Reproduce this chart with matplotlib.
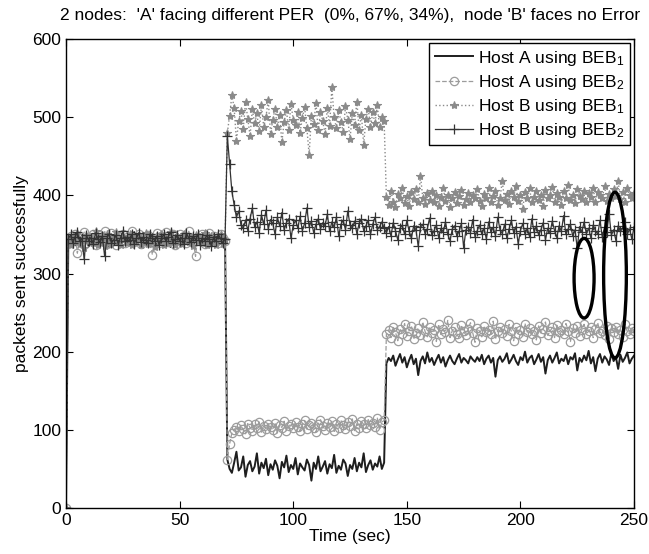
import matplotlib
matplotlib.use('Agg')
import matplotlib.pyplot as plt
from matplotlib.patches import Ellipse
import numpy as np

plt.rcParams['font.family'] = ['Liberation Sans', 'DejaVu Sans']
plt.rcParams['mathtext.default'] = 'regular'

# time axis: one sample per second
time = np.arange(0, 251)

# ---- Host A using BEB1 ----
a1_p1 = [338, 345, 341, 336, 350, 344, 339, 347, 342, 335,
         348, 340, 337, 352, 343, 338, 346, 341, 334, 349,
         344, 339, 351, 336, 342, 347, 338, 345, 340, 353,
         337, 343, 348, 335, 341, 346, 339, 350, 344, 336,
         342, 349, 338, 345, 340, 334, 347, 343, 351, 337,
         341, 346, 339, 344, 350, 336, 342, 348, 340, 345,
         338, 343, 349, 335, 341, 347, 339, 344, 337, 342]
a1_p2 = [62, 50, 45, 58, 72, 48, 52, 66, 40, 55,
         60, 47, 53, 70, 44, 58, 51, 63, 42, 56,
         49, 61, 54, 38, 59, 52, 67, 46, 55, 50,
         64, 43, 57, 52, 48, 62, 55, 35, 58, 50,
         66, 47, 53, 60, 44, 56, 51, 68, 45, 54,
         49, 62, 57, 41, 55, 50, 64, 47, 58, 52,
         70, 46, 55, 61, 49, 57, 53, 66, 50, 58]
a1_p3 = [185, 192, 188, 195, 182, 190, 197, 186, 193, 180,
         189, 196, 184, 191, 170, 188, 194, 185, 199, 187,
         192, 183, 190, 196, 186, 193, 181, 189, 195, 188,
         184, 191, 197, 186, 192, 189, 185, 194, 190, 187,
         193, 188, 196, 184, 191, 195, 186, 192, 168, 189,
         194, 187, 191, 198, 185, 190, 196, 188, 183, 193,
         189, 200, 186, 192, 195, 184, 190, 197, 187, 193,
         172, 189, 195, 186, 192, 199, 185, 191, 188, 196,
         184, 193, 190, 198, 176, 192, 187, 195, 189, 201,
         185, 193, 175, 191, 197, 186, 194, 190, 183, 198,
         188, 193, 178, 196, 187, 192, 199, 185, 191, 195]

# ---- Host A using BEB2 ----
a2_p1 = [340, 348, 344, 350, 326, 346, 342, 353, 339, 347,
         343, 351, 337, 345, 349, 341, 355, 338, 346, 352,
         344, 336, 348, 342, 350, 339, 347, 343, 354, 340,
         345, 351, 338, 347, 342, 349, 341, 324, 346, 352,
         339, 348, 344, 353, 340, 346, 350, 337, 345, 351,
         343, 348, 339, 354, 346, 341, 322, 347, 343, 350,
         338, 345, 352, 340, 348, 344, 339, 351, 346, 342]
a2_p2 = [62, 82, 96, 100, 104, 98, 106, 101, 95, 108,
         103, 99, 107, 102, 110, 97, 105, 101, 108, 104,
         100, 109, 96, 106, 103, 111, 99, 105, 108, 102,
         110, 104, 98, 107, 112, 101, 106, 109, 103, 97,
         108, 113, 105, 100, 109, 104, 111, 98, 107, 103,
         112, 106, 101, 110, 105, 114, 99, 108, 103, 111,
         107, 102, 113, 106, 109, 104, 115, 100, 110, 112]
a2_p3 = [222, 228, 218, 231, 225, 214, 229, 223, 236, 220,
         227, 233, 216, 224, 230, 221, 238, 226, 219, 232,
         224, 228, 213, 235, 222, 229, 225, 240, 218, 227,
         231, 223, 217, 234, 226, 221, 229, 237, 224, 212,
         230, 226, 219, 233, 225, 228, 222, 239, 216, 227,
         232, 224, 229, 220, 235, 226, 214, 231, 223, 228,
         219, 236, 225, 230, 222, 227, 215, 233, 224, 229,
         238, 221, 226, 231, 218, 234, 225, 228, 222, 236,
         227, 213, 230, 224, 233, 220, 228, 235, 223, 226,
         231, 218, 229, 237, 224, 227, 221, 233, 216, 230,
         225, 232, 222, 228, 219, 235, 226, 223, 230, 227]

# ---- Host B using BEB1 ----
b1_p1 = [342, 336, 347, 340, 352, 338, 344, 333, 349, 341,
         346, 339, 355, 337, 343, 348, 335, 350, 342, 338,
         346, 353, 340, 336, 348, 344, 339, 351, 337, 345,
         341, 349, 336, 343, 352, 338, 346, 340, 334, 347,
         342, 350, 337, 345, 339, 353, 341, 336, 348, 344,
         338, 351, 343, 340, 347, 335, 349, 342, 346, 339,
         352, 337, 344, 348, 341, 336, 345, 350, 338, 343]
b1_p2 = [480, 502, 528, 512, 470, 495, 508, 485, 520, 498,
         476, 510, 492, 505, 482, 515, 488, 500, 522, 479,
         496, 511, 487, 503, 468, 494, 509, 484, 517, 497,
         490, 506, 480, 499, 513, 486, 452, 502, 491, 518,
         483, 507, 495, 478, 512, 489, 538, 500, 486, 509,
         494, 481, 514, 497, 472, 505, 490, 520, 484, 503,
         465, 498, 511, 488, 506, 492, 515, 487, 500, 495]
b1_p3 = [398, 388, 405, 392, 385, 402, 396, 410, 390, 399,
         386, 404, 395, 408, 391, 425, 397, 389, 403, 394,
         406, 391, 400, 387, 398, 409, 393, 401, 385, 396,
         404, 390, 399, 407, 388, 395, 403, 392, 400, 397,
         408, 393, 386, 402, 396, 410, 391, 399, 405, 388,
         397, 418, 394, 402, 389, 406, 398, 412, 393, 400,
         383, 404, 396, 409, 391, 398, 405, 394, 401, 387,
         407, 396, 400, 411, 392, 403, 398, 388, 405, 397,
         413, 394, 401, 390, 408, 399, 395, 406, 392, 403,
         398, 410, 391, 404, 400, 396, 412, 393, 402, 397,
         408, 399, 418, 395, 404, 392, 409, 400, 396, 403]

# ---- Host B using BEB2 ----
b2_p1 = [344, 350, 339, 347, 353, 341, 345, 318, 349, 342,
         346, 338, 352, 344, 340, 348, 322, 345, 351, 339,
         343, 349, 337, 346, 354, 341, 347, 343, 350, 338,
         345, 352, 340, 347, 343, 339, 351, 346, 342, 348,
         336, 345, 350, 341, 347, 353, 339, 344, 349, 342,
         346, 338, 352, 345, 340, 348, 343, 350, 337, 346,
         342, 349, 344, 335, 347, 341, 350, 345, 339, 344]
b2_p2 = [476, 440, 405, 388, 372, 380, 362, 358, 368, 355,
         370, 384, 360, 366, 352, 375, 363, 381, 357, 369,
         364, 350, 372, 361, 378, 356, 365, 370, 345, 362,
         368, 358, 373, 355, 364, 384, 360, 367, 352, 363,
         370, 357, 365, 361, 376, 354, 366, 359, 372, 348,
         363, 368, 356, 380, 362, 358, 367, 351, 364, 370,
         355, 361, 368, 350, 363, 372, 356, 360, 366, 358]
b2_p3 = [352, 360, 348, 365, 355, 343, 358, 362, 350, 368,
         354, 345, 361, 356, 335, 359, 363, 351, 357, 371,
         349, 355, 362, 346, 358, 353, 366, 350, 342, 357,
         361, 348, 354, 364, 333, 356, 360, 352, 369, 347,
         355, 362, 350, 358, 344, 366, 353, 359, 348, 372,
         356, 351, 363, 345, 357, 368, 352, 360, 338, 355,
         364, 350, 358, 347, 370, 353, 361, 349, 356, 365,
         343, 358, 352, 367, 355, 346, 361, 354, 374, 350,
         357, 363, 348, 356, 332, 360, 353, 366, 351, 358,
         345, 362, 355, 350, 368, 347, 359, 353, 376, 349,
         356, 342, 361, 354, 358, 366, 350, 357, 344, 360]

host_a_beb1 = [0] + a1_p1 + a1_p2 + a1_p3
host_a_beb2 = [0] + a2_p1 + a2_p2 + a2_p3
host_b_beb1 = [0] + b1_p1 + b1_p2 + b1_p3
host_b_beb2 = [0] + b2_p1 + b2_p2 + b2_p3

fig = plt.figure(figsize=(6.49, 5.54), dpi=100)
ax = fig.add_axes([0.1017, 0.083, 0.8753, 0.8466])

ax.plot(time, host_a_beb1, '-', color='#1e1e1e', lw=1.4,
        label='Host A using BEB$_1$')
ax.plot(time, host_a_beb2, '--', color='#9c9c9c', lw=0.9, marker='o',
        ms=6, mfc='none', mew=0.9, label='Host A using BEB$_2$')
ax.plot(time, host_b_beb1, ':', color='#8a8a8a', lw=1.0, marker='*',
        ms=6, mew=0.8, label='Host B using BEB$_1$')
ax.plot(time, host_b_beb2, '-', color='#333333', lw=0.9, marker='+',
        ms=7, mew=0.9, label='Host B using BEB$_2$')

# hand-drawn style highlight ellipses
ax.add_patch(Ellipse((228, 294), 8.8, 102, fill=False, ec='black', lw=2.4, zorder=5))
ax.add_patch(Ellipse((241.6, 298), 10, 212, fill=False, ec='black', lw=2.4, zorder=5))

ax.set_xlim(0, 250)
ax.set_ylim(0, 600)
ax.set_xticks([0, 50, 100, 150, 200, 250])
ax.set_yticks([0, 100, 200, 300, 400, 500, 600])
ax.tick_params(direction='in', top=True, right=True, labelsize=12.5, length=5)
for sp in ax.spines.values():
    sp.set_linewidth(1.0)

ax.set_xlabel('Time (sec)', fontsize=12.5, labelpad=1)
ax.set_ylabel('packets sent successfully', fontsize=12.5, labelpad=2)
ax.set_title("2 nodes:  'A' facing different PER  (0%, 67%, 34%),  node 'B' faces no Error",
             fontsize=12.5, pad=14)

leg = ax.legend(loc='upper right', fontsize=12.5, fancybox=False, edgecolor='black',
                framealpha=1, borderaxespad=0.25, handlelength=2.2, handletextpad=0.3,
                labelspacing=0.3, borderpad=0.3)
leg.get_frame().set_linewidth(1.0)

fig.savefig('out.png', dpi=100)
